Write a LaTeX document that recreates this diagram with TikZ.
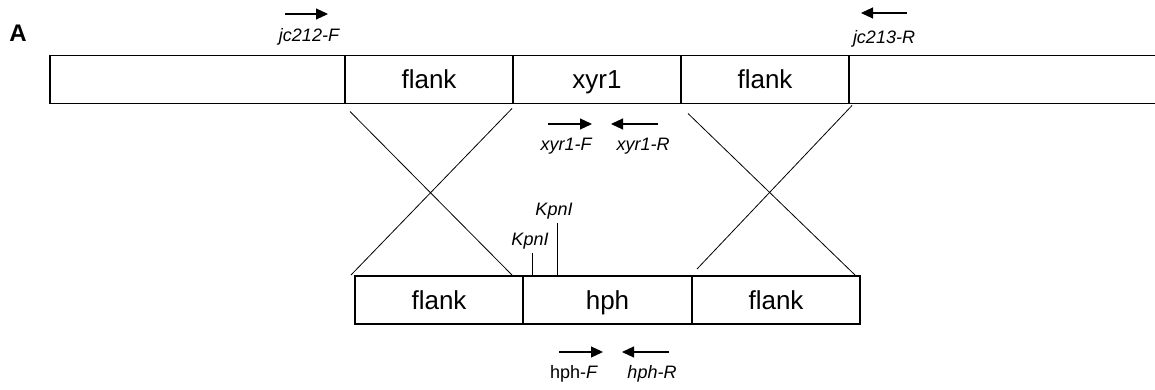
\documentclass[tikz,border=0pt]{standalone}
\usepackage{fontspec}
\setmainfont{Liberation Sans}
\usetikzlibrary{arrows.meta,calc}
\tikzset{
  seg/.style={draw, line width=1.3pt, minimum height=48pt, inner sep=0pt, outer sep=0pt, text height=19pt, text depth=0pt, font=\fontsize{26}{30}\selectfont},
  cross/.style={line width=0.8pt},
  primer/.style={line width=1.1pt, -{Triangle[length=12pt,width=11pt]}},
  lab/.style={inner sep=0pt, font=\fontsize{18}{21}\selectfont\itshape},
  site/.style={line width=0.9pt}
}
\begin{document}
\begin{tikzpicture}[x=1pt,y=-1pt]
\useasboundingbox (0,0) rectangle (1155,390);
\clip (0,0) rectangle (1155,390);
% label A
\node[inner sep=0pt, font=\fontsize{24}{28}\selectfont\bfseries] (A) at (18,33) {A};
% top construct
\node[seg, minimum width=295pt] (tL) at (197.5,79.5) {};
\node[seg, minimum width=168pt] (tF1) at (429,79.5) {flank};
\node[seg, minimum width=168pt] (tX) at (597,79.5) {xyr1};
\node[seg, minimum width=168pt] (tF2) at (765,79.5) {flank};
\node[seg, minimum width=330pt] (tR) at (1014,79.5) {};
% bottom construct
\node[seg, minimum width=168pt] (bF1) at (439,300) {flank};
\node[seg, minimum width=169pt] (bH) at (607.5,300) {hph};
\node[seg, minimum width=168pt] (bF2) at (776,300) {flank};
% crossing lines
\coordinate (c1a) at ($(tF1.south west)+(5,8)$);
\coordinate (c1b) at ($(bF1.north east)+(-11,-1)$);
\coordinate (c2a) at ($(tF1.south east)+(-1,5)$);
\coordinate (c2b) at ($(bF1.north west)+(-4,-1)$);
\coordinate (c3a) at ($(tF2.south west)+(7,10)$);
\coordinate (c3b) at ($(bF2.north east)+(-5,-1)$);
\coordinate (c4a) at ($(tF2.south east)+(3,2)$);
\coordinate (c4b) at ($(bF2.north west)+(5,-7)$);
\draw[cross] (c1a) -- (c1b);
\draw[cross] (c2a) -- (c2b);
\draw[cross] (c3a) -- (c3b);
\draw[cross] (c4a) -- (c4b);
% KpnI sites
\coordinate (k1b) at (532,276);
\coordinate (k1t) at (532,253);
\coordinate (k2b) at (557,276);
\coordinate (k2t) at (557,223);
\draw[site] (k1b) -- (k1t);
\draw[site] (k2b) -- (k2t);
\node[lab, anchor=south] (k1) at ($(k1t)+(-2,-4)$) {KpnI};
\node[lab, anchor=south] (k2) at ($(k2t)+(-3,-4)$) {KpnI};
% primers
\coordinate (p1a) at (285,14); \coordinate (p1b) at (328,14);
\draw[primer] (p1a) -- (p1b);
\node[lab] (l1) at (309,37) {jc212-F};
\coordinate (p2a) at (907,13); \coordinate (p2b) at (861,13);
\draw[primer] (p2a) -- (p2b);
\node[lab] (l2) at (884,39) {jc213-R};
\coordinate (p3a) at (548,124); \coordinate (p3b) at (592,124);
\draw[primer] (p3a) -- (p3b);
\node[lab] (l3) at (566,146) {xyr1-F};
\coordinate (p4a) at (658,124); \coordinate (p4b) at (611,124);
\draw[primer] (p4a) -- (p4b);
\node[lab] (l4) at (643,146) {xyr1-R};
\coordinate (p5a) at (559,352); \coordinate (p5b) at (603,352);
\draw[primer] (p5a) -- (p5b);
\node[lab, font=\fontsize{18}{21}\selectfont] (l5) at (574,374) {hph-\textit{F}};
\coordinate (p6a) at (669,352); \coordinate (p6b) at (622,352);
\draw[primer] (p6a) -- (p6b);
\node[lab] (l6) at (652,374) {hph-R};
\end{tikzpicture}
\end{document}
